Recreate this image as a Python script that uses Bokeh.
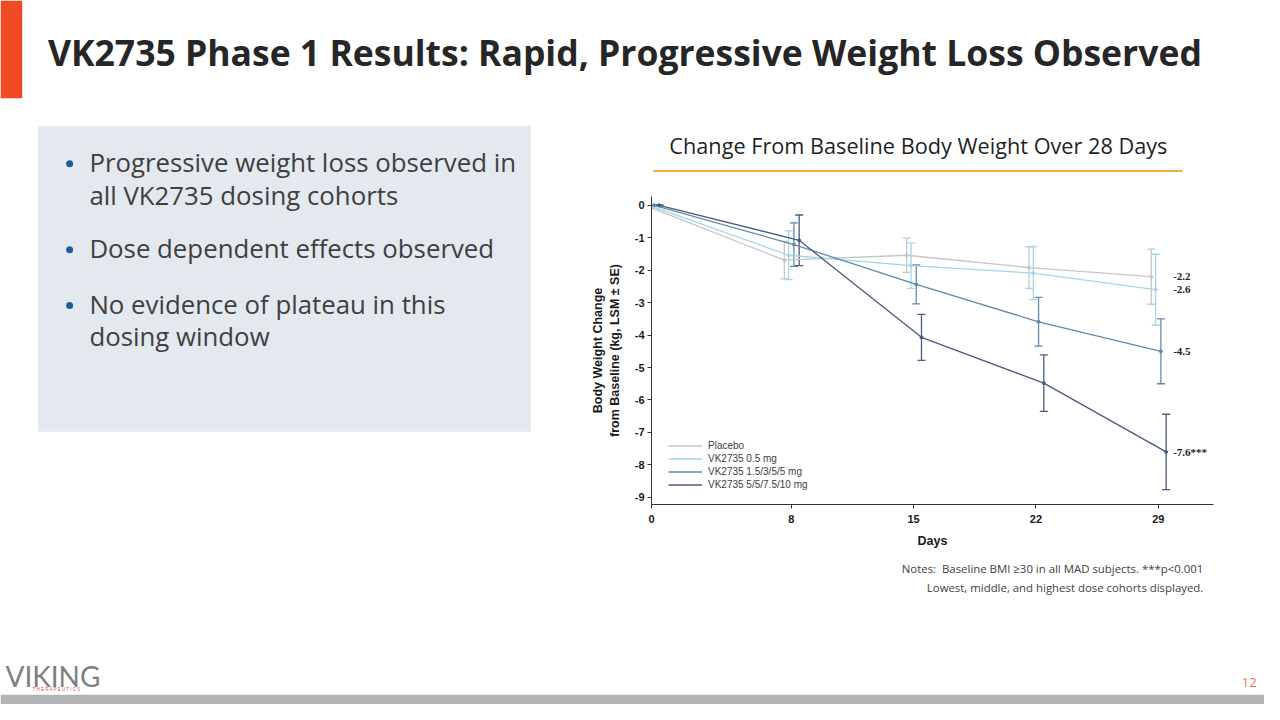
from bokeh.plotting import figure
from bokeh.layouts import column, row
from bokeh.models import (Range1d, FixedTicker, Legend, LegendItem, Whisker,
                          TeeHead, ColumnDataSource)
from bokeh.core.properties import value
from bokeh.embed import file_html
from bokeh.resources import INLINE

# ---------------- data ----------------
days = [0, 8, 15, 22, 29]
series_names = ["Placebo", "VK2735 0.5 mg", "VK2735 1.5/3/5/5 mg", "VK2735 5/5/7.5/10 mg"]
placebo_mean = [0.0, -1.69, -1.54, -1.92, -2.2]
placebo_se = [0.0, 0.58, 0.53, 0.64, 0.85]
low_mean = [0.0, -1.54, -1.86, -2.09, -2.6]
low_se = [0.0, 0.75, 0.70, 0.82, 1.09]
mid_mean = [0.0, -1.21, -2.44, -3.59, -4.5]
mid_se = [0.0, 0.67, 0.60, 0.75, 1.00]
high_mean = [0.0, -1.08, -4.07, -5.48, -7.6]
high_se = [0.0, 0.78, 0.71, 0.87, 1.16]
end_labels = ["-2.2", "-2.6", "-4.5", "-7.6***"]
x_ticks = [0, 8, 15, 22, 29]
y_ticks = [0, -1, -2, -3, -4, -5, -6, -7, -8, -9]

slide_title = "VK2735 Phase 1 Results: Rapid, Progressive Weight Loss Observed"
chart_title = "Change From Baseline Body Weight Over 28 Days"
bullets = [
    ["Progressive weight loss observed in", "all VK2735 dosing cohorts"],
    ["Dose dependent effects observed"],
    ["No evidence of plateau in this", "dosing window"],
]
notes_lines = ["Notes: \u00a0Baseline BMI \u226530 in all MAD subjects. ***p<0.001",
               "Lowest, middle, and highest dose cohorts displayed."]

# ---------------- style / geometry ----------------
colors = ["#c6c6c6", "#a3d6ea", "#6289ad", "#4a5b7e"]
dodge = [-0.4, -0.15, 0.15, 0.45]
FONT = "Open Sans"
ARIAL = "Liberation Sans"
W, H = 1264, 704
SX, SY = W / 1280.0, H / 720.0


def X(px):
    return px * SX


def Y(py):
    return py * SY


TOP_H, MID_H = 117, 519
BOT_H = H - TOP_H - MID_H
LEFT_W = 583
RIGHT_W = W - LEFT_W
HEAD_H, CHART_H = 64, 371
NOTE_H = MID_H - HEAD_H - CHART_H

c_top = TOP_H + HEAD_H
frame_l = round(X(659) - LEFT_W)
frame_r = round(W - X(1228))
frame_t = round(Y(200) - c_top)
frame_b = round(CHART_H - (Y(515) - c_top))


def canvas(w, h, bl=0, br=0):
    # pixel canvas; x range is offset so that data x == local pixel x even when
    # the layout aligns this frame with the chart frame
    p = figure(width=w, height=h, x_range=Range1d(bl, w - br), y_range=Range1d(h, 0),
               output_backend="svg", toolbar_location=None, min_border=0,
               min_border_left=bl, min_border_right=br)
    p.axis.visible = False
    p.grid.visible = False
    p.outline_line_color = None
    p.background_fill_color = "white"
    p.border_fill_color = "white"
    return p


def txt(p, x, y, s, size, color, font=FONT, align="left", style="normal"):
    p.text(x=[x], y=[y], text=[s], text_font=value(font), text_font_style=style,
           text_font_size=value(size), text_color=color, text_baseline="middle",
           text_align=align)


# ---------------- top strip (slide title) ----------------
top = canvas(W, TOP_H)
top.quad(left=[0], right=[X(22)], top=[0], bottom=[Y(100)], color="#f04a23", line_color=None)
txt(top, X(48), Y(53), slide_title, "35.5px", "#262626", style="bold")

# ---------------- left panel (bullets) ----------------
left = canvas(LEFT_W, MID_H)
oy = TOP_H
left.quad(left=[X(38)], right=[X(537)], top=[Y(128) - oy], bottom=[Y(441) - oy],
          color="#e4e9f0", line_color=None)
line_y = [165, 199, 253, 310, 343]
k = 0
for b in bullets:
    left.scatter(x=[X(70)], y=[Y(line_y[k] + 2) - oy], size=7, color="#1f5c99", line_color=None)
    for ln in b:
        txt(left, X(90), Y(line_y[k]) - oy, ln, "25.8px", "#404040")
        k += 1

# ---------------- chart header ----------------
header = canvas(RIGHT_W, HEAD_H, frame_l, frame_r)
ox = LEFT_W
txt(header, X(929.5) - ox, Y(148) - oy, chart_title, "21.7px", "#1f1f1f", align="center")
header.segment(x0=[X(660) - ox + 1], y0=[Y(174.5) - oy], x1=[X(1197) - ox], y1=[Y(174.5) - oy],
               line_color="#f2ab45", line_width=2)

# ---------------- chart ----------------
p = figure(width=RIGHT_W, height=CHART_H, x_range=Range1d(0, 32.16), y_range=Range1d(-9.22, 0.27),
           output_backend="svg", toolbar_location=None,
           min_border_left=frame_l, min_border_right=frame_r,
           min_border_top=frame_t, min_border_bottom=frame_b)
p.grid.visible = False
p.outline_line_color = None
p.background_fill_color = "white"
p.border_fill_color = "white"

means = [placebo_mean, low_mean, mid_mean, high_mean]
ses = [placebo_se, low_se, mid_se, high_se]
items = []
for name, m, s, c, d in zip(series_names, means, ses, colors, dodge):
    xs = [t + d for t in days]
    src = ColumnDataSource(dict(x=xs, y=m, lo=[a - b for a, b in zip(m, s)],
                                hi=[a + b for a, b in zip(m, s)]))
    r = p.line("x", "y", source=src, line_color=c, line_width=1.3)
    p.scatter("x", "y", source=src, size=3, color=c)
    w = Whisker(base="x", lower="lo", upper="hi", source=src, dimension="height",
                line_color=c, line_width=1.3,
                upper_head=TeeHead(size=8, line_color=c, line_width=1.3),
                lower_head=TeeHead(size=8, line_color=c, line_width=1.3))
    p.add_layout(w)
    items.append(LegendItem(label=name, renderers=[r]))

final_vals = [m[-1] for m in means]
p.text(x=[29.85] * 4, y=final_vals, text=end_labels, text_font=value("Liberation Serif"),
       text_font_style="bold", text_font_size=value("11px"), text_color="#222222",
       text_baseline="middle", text_align="left")

legend = Legend(items=items, location=(17, 13), padding=0, margin=0, spacing=0,
                glyph_width=34, glyph_height=13, label_height=13, label_standoff=6,
                label_text_font=ARIAL, label_text_font_size="10px",
                label_text_color="#404040", background_fill_alpha=0, border_line_color=None)
p.add_layout(legend)

for ax in (p.xaxis[0], p.yaxis[0]):
    ax.major_label_text_font = ARIAL
    ax.major_label_text_font_style = "bold"
    ax.major_label_text_font_size = "11px"
    ax.major_label_text_color = "#1a1a1a"
    ax.axis_label_text_font = ARIAL
    ax.axis_label_text_font_style = "bold"
    ax.axis_label_text_font_size = "12.5px"
    ax.axis_label_text_color = "#1a1a1a"
    ax.axis_line_color = "#333333"
    ax.major_tick_line_color = "#333333"
    ax.major_tick_out = 4
    ax.major_tick_in = 0
    ax.minor_tick_line_color = None

p.xaxis.ticker = FixedTicker(ticks=x_ticks)
p.yaxis.ticker = FixedTicker(ticks=y_ticks)
p.yaxis.major_label_overrides = {t: "%d" % t for t in y_ticks}
p.xaxis.axis_label = "Days"
p.xaxis.major_label_standoff = 6
p.xaxis.axis_label_standoff = 8
p.yaxis.axis_label = "Body Weight Change\nfrom Baseline (kg, LSM \u00b1 SE)"
p.yaxis.major_label_standoff = 3
p.yaxis.axis_label_standoff = 10

# ---------------- notes ----------------
notes = canvas(RIGHT_W, NOTE_H, frame_l, frame_r)
ny = TOP_H + HEAD_H + CHART_H
txt(notes, X(1218) - ox, Y(581) - ny, notes_lines[0], "11.4px", "#404040", align="right")
txt(notes, X(1218) - ox, Y(600) - ny, notes_lines[1], "11.4px", "#404040", align="right")

# ---------------- bottom strip ----------------
bottom = canvas(W, BOT_H)
by = TOP_H + MID_H
txt(bottom, X(5), Y(691) - by, "VIKING", "28px", "#808080", font="Lato")
txt(bottom, X(57), Y(705) - by, "T H E R A P E U T I C S", "4.5px", "#d9534f",
    font=ARIAL, align="center")
txt(bottom, X(1272), Y(697) - by, "12", "13px", "#e8735a", align="right")
bottom.quad(left=[0], right=[W], top=[Y(710) - by], bottom=[BOT_H], color="#b2b4b3",
            line_color=None)

layout = column(top, row(left, column(header, p, notes)), bottom)
open("out.html", "w").write(file_html(layout, INLINE))
